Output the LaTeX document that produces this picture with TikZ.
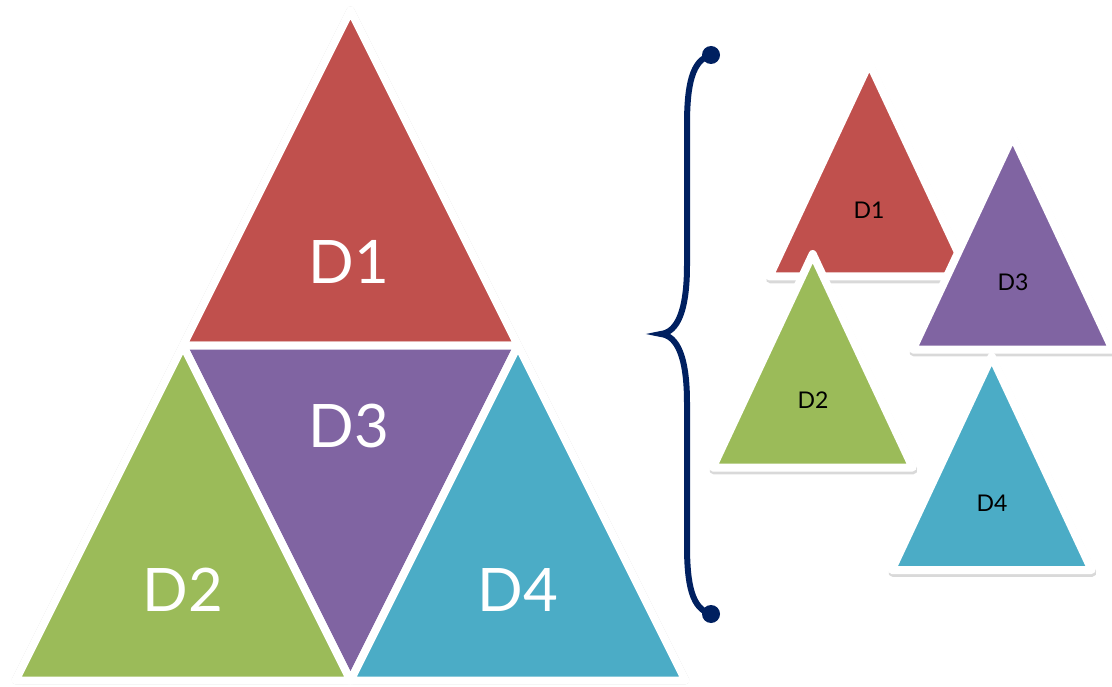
\documentclass[tikz,border=0pt]{standalone}
\usepackage{fontspec}
\setmainfont{Lato}
\definecolor{cred}{HTML}{C0504D}
\definecolor{cgreen}{HTML}{9BBB59}
\definecolor{cpurple}{HTML}{8064A2}
\definecolor{cteal}{HTML}{4BACC6}
\definecolor{cnavy}{HTML}{002060}
\begin{document}
\begin{tikzpicture}[x=1pt,y=-1pt,
  tri/.style={draw=white,line width=8pt,line join=round},
  shd/.style={draw=black,draw opacity=0.15,line width=8pt,line join=round},
  biglabel/.style={text=white,font=\fontsize{60}{60}\selectfont,inner sep=0pt},
  smalllabel/.style={text=black,font=\fontsize{23}{23}\selectfont,inner sep=0pt},
  brace/.style={draw=cnavy,line width=6pt,line cap=round}]
\useasboundingbox (0,0) rectangle (1112,687);
% big triangle vertices
\coordinate (A) at (350.5,10.5);
\coordinate (B) at (15.5,680.5);
\coordinate (C) at (685.5,680.5);
\coordinate (P) at (183,345.5);
\coordinate (Q) at (518,345.5);
\coordinate (R) at (350.5,680.5);
% shadows
\begin{scope}[shift={(0.7,2.8)}]
\draw[shd] (A)--(P)--(Q)--cycle;
\draw[shd] (P)--(B)--(R)--cycle;
\draw[shd] (Q)--(R)--(C)--cycle;
\end{scope}
\draw[tri,fill=cred] (A)--(P)--(Q)--cycle;
\draw[tri,fill=cpurple] (P)--(Q)--(R)--cycle;
\draw[tri,fill=cgreen] (P)--(B)--(R)--cycle;
\draw[tri,fill=cteal] (Q)--(R)--(C)--cycle;
\node[biglabel] (b1) at (349,262) {D1};
\node[biglabel] (b3) at (349,426) {D3};
\node[biglabel] (b2) at (183,590) {D2};
\node[biglabel] (b4) at (518,590) {D4};
% brace
\coordinate (bt) at (711,55);
\coordinate (bm) at (661,334);
\coordinate (bb) at (711,614);
\draw[brace] (bt) .. controls (692,60) and (687,85) .. (687,125) -- (687,265)
  .. controls (687,312) and (677,332) .. (bm)
  .. controls (677,336) and (687,356) .. (687,403) -- (687,545)
  .. controls (687,585) and (692,609) .. (bb);
\fill[cnavy] (bt) circle (9);
\fill[cnavy] (bb) circle (9);
% small triangles
\begin{scope}[shift={(869.3,63)}]
\draw[shd,shift={(0.7,2.8)}] (0,0)--(-100,213.5)--(100,213.5)--cycle;
\draw[tri,fill=cred] (0,0)--(-100,213.5)--(100,213.5)--cycle;
\end{scope}
\begin{scope}[shift={(1012.7,136)}]
\draw[shd,shift={(0.7,2.8)}] (0,0)--(-100,213.5)--(100,213.5)--cycle;
\draw[tri,fill=cpurple] (0,0)--(-100,213.5)--(100,213.5)--cycle;
\end{scope}
\begin{scope}[shift={(812.7,254)}]
\draw[shd,shift={(0.7,2.8)}] (0,0)--(-100,213.5)--(100,213.5)--cycle;
\draw[tri,fill=cgreen] (0,0)--(-100,213.5)--(100,213.5)--cycle;
\end{scope}
\begin{scope}[shift={(991.7,356.5)}]
\draw[shd,shift={(0.7,2.8)}] (0,0)--(-100,213.5)--(100,213.5)--cycle;
\draw[tri,fill=cteal] (0,0)--(-100,213.5)--(100,213.5)--cycle;
\end{scope}
\node[smalllabel] (s1) at (869,210) {D1};
\node[smalllabel] (s3) at (1013,282) {D3};
\node[smalllabel] (s2) at (813,400) {D2};
\node[smalllabel] (s4) at (992,503) {D4};
\end{tikzpicture}
\end{document}
